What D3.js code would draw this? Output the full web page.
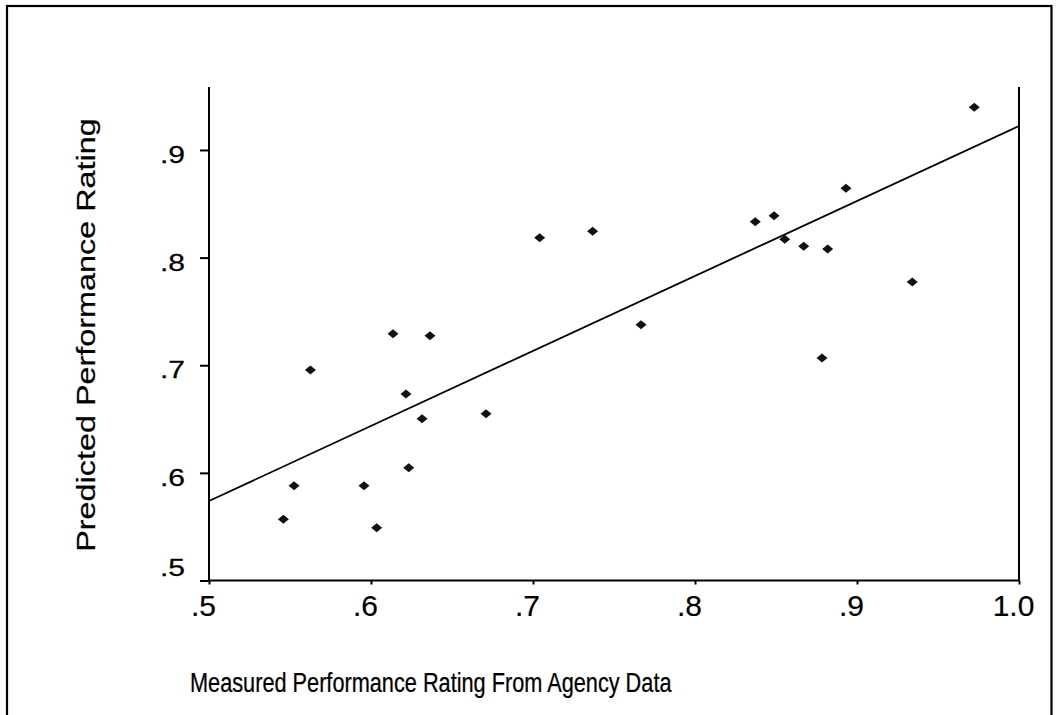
<!DOCTYPE html>
<html>
<head>
<meta charset="utf-8">
<script src="https://cdn.jsdelivr.net/npm/d3@7"></script>
<style>
  html, body { margin: 0; padding: 0; background: #fff; }
  svg { display: block; }
  text { font-family: "Liberation Sans", Arial, sans-serif; fill: #000; }
</style>
</head>
<body>
<svg id="chart" width="1058" height="715"></svg>
<script>
// ---- data ----
const measured  = [0.5459, 0.5525, 0.5626, 0.5957, 0.6035, 0.6136, 0.6216, 0.6233, 0.6315, 0.6364, 0.6710,
                   0.7041, 0.7368, 0.7667, 0.8372, 0.8488, 0.8554, 0.8671, 0.8819, 0.8784, 0.8932, 0.9341, 0.9724];
const predicted = [0.5569, 0.5881, 0.6956, 0.5881, 0.5491, 0.7293, 0.6733, 0.6048, 0.6503, 0.7274, 0.6550,
                   0.8185, 0.8244, 0.7377, 0.8334, 0.8389, 0.8170, 0.8105, 0.8080, 0.7067, 0.8644, 0.7773, 0.9397];
const fitX = [0.5, 1.0];
const fitY = [0.5739, 0.9223];
const xTickValues = [0.5, 0.6, 0.7, 0.8, 0.9, 1.0];
const xTickLabels = [".5", ".6", ".7", ".8", ".9", "1.0"];
const yTickValues = [0.5, 0.6, 0.7, 0.8, 0.9];
const yTickLabels = [".5", ".6", ".7", ".8", ".9"];
const xDomain = [0.5, 1.0];
const yDomain = [0.5, 0.9585];
const xTitle = "Measured Performance Rating From Agency Data";
const yTitle = "Predicted Performance Rating";

// ---- layout ----
const svg = d3.select("#chart");
const x = d3.scaleLinear().domain(xDomain).range([209, 1019]);
const y = d3.scaleLinear().domain(yDomain).range([580.5, 87]);

// outer frame (bottom edge off-canvas)
svg.append("rect")
  .attr("x", 7).attr("y", 6)
  .attr("width", 1044.5).attr("height", 740)
  .attr("fill", "none").attr("stroke", "#000").attr("stroke-width", 2.2);

// x axis
const xAxis = d3.axisBottom(x).tickValues(xTickValues).tickSize(4)
  .tickFormat((d, i) => xTickLabels[i]);
const gx = svg.append("g").attr("transform", `translate(0,${y(yDomain[0])})`).call(xAxis);
gx.select(".domain").attr("d", `M${x(xDomain[0])},0H${x(xDomain[1])}`).attr("stroke-width", 2);
gx.selectAll(".tick line").attr("stroke-width", 2);
gx.selectAll(".tick text")
  .attr("font-family", "Liberation Sans, Arial, sans-serif")
  .attr("font-size", 30)
  .attr("stroke", "#000").attr("stroke-width", 0.2)
  .attr("dx", -6)
  .attr("dy", null)
  .attr("y", 35.5);

// y axis
const yAxis = d3.axisLeft(y).tickValues(yTickValues).tickSize(9).tickFormat(() => "");
const gy = svg.append("g").attr("transform", `translate(${x(xDomain[0])},0)`).call(yAxis);
gy.select(".domain").attr("d", `M0,${y(yDomain[0])}V${y(yDomain[1])}`).attr("stroke-width", 2);
gy.selectAll(".tick line").attr("stroke-width", 2);
gy.selectAll(".tick").each(function(d, i) {
  const base = (d === yDomain[0]) ? -5.5 : 12.5;
  d3.select(this).append("text")
    .attr("text-anchor", "end")
    .attr("font-size", 23.5)
    .attr("stroke", "#000").attr("stroke-width", 0.25)
    .attr("transform", `translate(-24,${base}) scale(1.28,1)`)
    .text(yTickLabels[i]);
});

// right vertical line
svg.append("line")
  .attr("x1", x(xDomain[1])).attr("x2", x(xDomain[1]))
  .attr("y1", y(yDomain[0])).attr("y2", y(yDomain[1]))
  .attr("stroke", "#000").attr("stroke-width", 2);

// regression line
svg.append("line")
  .attr("x1", x(fitX[0])).attr("y1", y(fitY[0]))
  .attr("x2", x(fitX[1])).attr("y2", y(fitY[1]))
  .attr("stroke", "#000").attr("stroke-width", 1.8);

// points
svg.append("g").selectAll("path")
  .data(measured.map((m, i) => [m, predicted[i]]))
  .join("path")
  .attr("d", "M0,-4.5 L5.5,0 L0,4.5 L-5.5,0Z")
  .attr("transform", d => `translate(${x(d[0])},${y(d[1])})`)
  .attr("fill", "#111");

// axis titles
svg.append("text")
  .attr("transform", "translate(190,692) scale(0.79,1)")
  .attr("font-size", 27.5)
  .attr("stroke", "#000").attr("stroke-width", 0.25)
  .attr("text-anchor", "start")
  .text(xTitle);

svg.append("text")
  .attr("transform", "translate(95,335) rotate(-90) scale(1.27,1)")
  .attr("font-size", 25.5)
  .attr("stroke", "#000").attr("stroke-width", 0.2)
  .attr("text-anchor", "middle")
  .text(yTitle);
</script>
</body>
</html>
